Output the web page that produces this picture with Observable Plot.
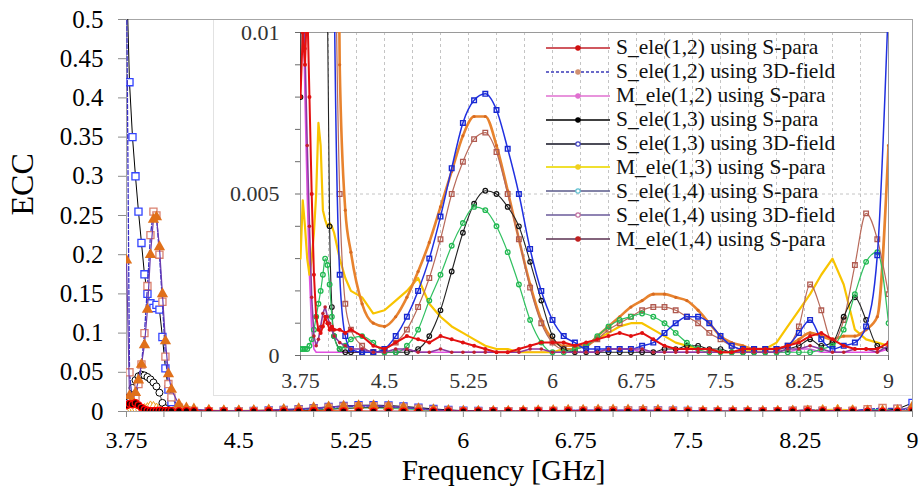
<!DOCTYPE html>
<html><head><meta charset="utf-8">
<script src="https://cdn.jsdelivr.net/npm/d3@7"></script>
<script src="https://cdn.jsdelivr.net/npm/@observablehq/plot@0.6"></script>
<style>
body{margin:0;background:#fff;}
#wrap{position:relative;width:920px;height:495px;overflow:hidden;font-family:"Liberation Serif","Times New Roman",Times,"DejaVu Serif",serif;background:#fff;}
#main{position:absolute;left:0;top:0;}
#inset{position:absolute;left:213px;top:20px;width:698px;height:376px;box-sizing:border-box;border-left:1px solid #e2e2e2;border-bottom:1px solid #e2e2e2;background:#fff;}
#legend{position:absolute;left:546px;top:36px;font-size:21.5px;color:#111;}
#legend .row{display:flex;align-items:center;height:23.9px;white-space:nowrap;}
#legend svg{margin-right:6px;}
</style></head>
<body><div id="wrap"><div id="main"></div><div id="inset"></div><div id="legend"></div></div>
<script>
// ---------- data ----------
const freq = [3.75,3.77,3.79,3.81,3.83,3.85,3.87,3.89,3.91,3.93,3.95,3.97,3.99,4.01,4.03,4.05,
  4.1,4.15,4.2,
  4.3,4.4,4.5,4.6,4.7,4.8,4.9,5.0,5.1,5.2,
  5.3,5.4,5.5,5.6,5.7,5.8,5.9,6.0,6.1,6.2,
  6.3,6.4,6.5,6.6,6.7,6.8,6.9,7.0,7.1,7.2,
  7.3,7.4,7.5,7.6,7.7,7.8,7.9,8.0,8.1,8.2,
  8.3,8.4,8.5,8.6,8.7,8.8,8.9,9.0];

const s12_Spara = [0.008,0.010,0.009,0.011,0.008,0.005,0.0025,0.0012,0.0008,0.0007,0.0009,0.0012,0.0010,0.0008,0.0009,0.0008,
  0.0008,0.0007,0.0008,
  0.0006,0.0003,0.0002,0.0004,0.0006,0.0005,0.0004,0.0006,0.0005,0.0004,
  0.0003,0.0002,0.0001,0.0001,0.0002,0.0003,0.0004,0.0004,0.0004,0.0003,
  0.0004,0.0005,0.0006,0.0007,0.0006,0.0007,0.0005,0.0003,0.0002,0.0002,
  0.0002,0.0002,0.0001,0.0001,0.0002,0.0002,0.0002,0.0002,0.0003,0.0004,
  0.0006,0.0007,0.0005,0.0003,0.0002,0.0002,0.0002,0.0004];

const s12_3D = [0.193,0.020,0.014,0.024,0.040,0.060,0.085,0.130,0.200,0.245,0.248,0.210,0.150,0.090,0.048,0.028,
  0.009,0.0045,0.0032,
  0.0016,0.0010,0.0009,0.0012,0.0018,0.0026,0.0035,0.0046,0.0057,0.0068,
  0.0074,0.0074,0.0065,0.0051,0.0036,0.0022,0.0011,0.0005,0.0003,0.0003,
  0.0003,0.0006,0.0009,0.0012,0.0015,0.0017,0.0019,0.0019,0.0018,0.0017,
  0.0014,0.0010,0.0006,0.0004,0.0003,0.0002,0.0002,0.0002,0.0003,0.0005,
  0.0007,0.0006,0.0005,0.0006,0.0006,0.0008,0.0012,0.0065];

const m12_Spara = [0.015,0.012,0.008,0.005,0.0025,0.0008,0.0002,0.0001,0.0001,0.0001,0.0001,0.0001,0.0001,0.0001,0.0001,0.0001,
  0.0001,0.0001,0.0001,
  0.0001,0.0001,0.0001,0.0001,0.0002,0.0001,0.0001,0.0001,0.0001,0.0001,
  0.0001,0.0001,0.0001,0.0001,0.0001,0.0001,0.0001,0.0001,0.0001,0.0001,
  0.0001,0.0001,0.0002,0.0002,0.0002,0.0001,0.0001,0.0001,0.0001,0.0001,
  0.0001,0.0001,0.0001,0.0001,0.0001,0.0001,0.0001,0.0001,0.0001,0.0002,
  0.0002,0.0001,0.0001,0.0001,0.0001,0.0001,0.0001,0.0002];

const s13_Spara = [0.008,0.018,0.030,0.040,0.045,0.047,0.046,0.044,0.041,0.037,0.032,0.024,0.011,0.004,0.0015,0.0006,
  0.0002,0.0001,0.0001,
  0.0001,0.0001,0.0001,0.0001,0.0001,0.0002,0.0006,0.0014,0.0026,0.0038,
  0.0047,0.0051,0.0050,0.0046,0.0040,0.0029,0.0017,0.0006,0.0002,0.0001,
  0.0001,0.0001,0.0001,0.0001,0.0001,0.0001,0.0001,0.0002,0.0002,0.0003,
  0.0003,0.0002,0.0002,0.0001,0.0001,0.0001,0.0001,0.0001,0.0002,0.0003,
  0.0005,0.0003,0.0004,0.0012,0.0018,0.0011,0.0003,0.0002];

const s13_3D = [0.56,0.42,0.35,0.30,0.255,0.215,0.175,0.150,0.138,0.132,0.136,0.130,0.095,0.055,0.028,0.012,
  0.0025,0.0006,0.0002,
  0.0001,0.0001,0.0002,0.0006,0.0012,0.0020,0.0030,0.0043,0.0058,0.0072,
  0.0079,0.0081,0.0076,0.0064,0.0050,0.0033,0.0020,0.0011,0.0006,0.0004,
  0.0002,0.0002,0.0002,0.0002,0.0002,0.0003,0.0004,0.0007,0.0010,0.0012,
  0.0012,0.0010,0.0006,0.0003,0.0002,0.0002,0.0002,0.0002,0.0003,0.0007,
  0.0011,0.0005,0.0002,0.0003,0.0004,0.0009,0.0031,0.011];

const m13_Spara = [0.003,0.0048,0.004,0.003,0.0025,0.003,0.0038,0.005,0.0072,0.0065,0.0045,0.0042,0.004,0.0041,0.004,0.0038,
  0.003,0.0024,0.002,
  0.0018,0.0013,0.0014,0.0017,0.0020,0.0024,0.0016,0.0012,0.0009,0.0007,
  0.0005,0.0003,0.0002,0.0002,0.0001,0.0001,0.0001,0.0001,0.0002,0.0002,
  0.0003,0.0005,0.0007,0.0009,0.0010,0.0010,0.0008,0.0006,0.0004,0.0003,
  0.0002,0.0002,0.0001,0.0001,0.0001,0.0002,0.0002,0.0004,0.0009,0.0014,
  0.0019,0.0025,0.0030,0.0022,0.0008,0.0005,0.0004,0.0003];

const s14_Spara = [0.0002,0.0002,0.0002,0.0002,0.0003,0.0005,0.0008,0.0012,0.0016,0.0020,0.0025,0.0030,0.0028,0.0022,0.0012,0.0006,
  0.0002,0.0003,0.0005,
  0.0006,0.0004,0.0001,0.0001,0.0003,0.0008,0.0017,0.0025,0.0034,0.0041,
  0.0046,0.0045,0.0040,0.0032,0.0022,0.0011,0.0004,0.0001,0.0001,0.0002,
  0.0003,0.0006,0.0009,0.0011,0.0012,0.0013,0.0012,0.0010,0.0007,0.0004,
  0.0002,0.0001,0.0001,0.0001,0.0001,0.0001,0.0001,0.0001,0.0001,0.0001,
  0.0001,0.0002,0.0003,0.0008,0.0019,0.0029,0.0032,0.0010];

const s14_3D = [0.56,0.05,0.010,0.018,0.035,0.060,0.100,0.160,0.225,0.255,0.250,0.200,0.140,0.070,0.035,0.018,
  0.005,0.0016,0.0008,
  0.0003,0.0001,0.0002,0.0004,0.0008,0.0015,0.0024,0.0036,0.0050,0.0060,
  0.0067,0.0069,0.0063,0.0050,0.0036,0.0021,0.0010,0.0004,0.0002,0.0002,
  0.0003,0.0005,0.0008,0.0010,0.0012,0.0014,0.0015,0.0015,0.0014,0.0012,
  0.0010,0.0007,0.0005,0.0003,0.0002,0.0002,0.0002,0.0002,0.0003,0.0009,
  0.0022,0.0014,0.0004,0.0011,0.0028,0.0044,0.0036,0.0019];

const m14_Spara = [0.022,0.012,0.0095,0.0065,0.004,0.0018,0.0006,0.0003,0.0005,0.0009,0.0013,0.0015,0.0012,0.0010,0.0008,0.0006,
  0.0004,0.0003,0.0002,
  0.0002,0.0001,0.0001,0.0002,0.0002,0.0001,0.0001,0.0002,0.0001,0.0001,
  0.0001,0.0001,0.0001,0.0001,0.0001,0.0002,0.0002,0.0001,0.0001,0.0001,
  0.0001,0.0001,0.0002,0.0002,0.0002,0.0002,0.0001,0.0001,0.0001,0.0001,
  0.0001,0.0001,0.0001,0.0001,0.0001,0.0001,0.0001,0.0001,0.0002,0.0002,
  0.0003,0.0002,0.0001,0.0001,0.0002,0.0002,0.0001,0.0003];

const seriesNames = ["S_ele(1,2) using S-para","S_ele(1,2) using 3D-field","M_ele(1,2) using S-para",
  "S_ele(1,3) using S-para","S_ele(1,3) using 3D-field","M_ele(1,3) using S-para",
  "S_ele(1,4) using S-para","S_ele(1,4) using 3D-field","M_ele(1,4) using S-para"];

const xTickValues = [3.75,4.5,5.25,6,6.75,7.5,8.25,9];
const xTickLabels = ["3.75","4.5","5.25","6","6.75","7.5","8.25","9"];
const yTickValues = [0,0.05,0.1,0.15,0.2,0.25,0.3,0.35,0.4,0.45,0.5];
const yTickLabels = ["0","0.05","0.1","0.15","0.2","0.25","0.3","0.35","0.4","0.45","0.5"];
const insetYTickValues = [0,0.005,0.01];
const insetYTickLabels = ["0","0.005","0.01"];
const xLabel = "Frequency [GHz]";
const yLabel = "ECC";

// ---------- helpers ----------
const rows = vals => freq.map((f, i) => ({f, v: vals[i]}));
const near = (a, b) => Math.abs(a - b) < 1e-9;
const fmtFrom = (vals, labs) => d => { const i = vals.findIndex(v => near(v, d)); return i >= 0 ? labs[i] : ""; };
const xMinor = d3.range(0, 22).map(k => 3.75 + 0.25 * k);
const insetYMinor = d3.range(0, 11).map(k => +(k * 0.001).toFixed(3));
const FONT = "'Liberation Serif','Times New Roman',Times,'DejaVu Serif',serif";

// ---------- main chart ----------
const xy = {x: "f", y: "v", clip: true};
const main = Plot.plot({
  width: 920, height: 495,
  marginLeft: 126, marginRight: 8, marginTop: 19, marginBottom: 84,
  x: {domain: [3.75, 9]},
  y: {domain: [0, 0.5]},
  style: {fontFamily: FONT, background: "white", color: "#000"},
  marks: [
    Plot.frame({stroke: "#a6a6a6"}),
    Plot.axisY(yTickValues, {anchor: "left", tickSize: 8, tickPadding: 15, tickFormat: fmtFrom(yTickValues, yTickLabels), stroke: "#8c8c8c", fill: "#000", fontSize: 25, label: null}),
    Plot.axisX(xMinor, {anchor: "bottom", tickSize: 6, tickPadding: 13, tickFormat: fmtFrom(xTickValues, xTickLabels), stroke: "#8c8c8c", fill: "#000", fontSize: 24, label: null}),
    Plot.text([yLabel], {frameAnchor: "left", dx: -104, rotate: -90, fontSize: 32, fill: "#000"}),
    Plot.text([xLabel], {frameAnchor: "bottom", dx: -16, dy: 68, fontSize: 29, fill: "#000"}),
    Plot.line(rows(m12_Spara), {...xy, stroke: "#e040e0", strokeWidth: 1.2}),
    Plot.line(rows(m14_Spara), {...xy, stroke: "#7a2a70", strokeWidth: 1.2}),
    Plot.line(rows(s14_Spara), {...xy, stroke: "#40d080", strokeWidth: 1}),
    Plot.dot(rows(s14_Spara), {...xy, symbol: "square", r: 3.2, stroke: "#40d080", fill: "white", strokeWidth: 1.2}),
    Plot.line(rows(m13_Spara), {...xy, stroke: "#f0b020", strokeWidth: 1}),
    Plot.dot(rows(m13_Spara), {...xy, symbol: "diamond", r: 3, stroke: "#f0a020", fill: "white", strokeWidth: 1}),
    Plot.line(rows(s13_Spara), {...xy, stroke: "#000", strokeWidth: 0.7}),
    Plot.dot(rows(s13_Spara), {...xy, r: 3.5, stroke: "#000", fill: "white", strokeWidth: 1}),
    Plot.line(rows(s13_3D), {...xy, stroke: "#000", strokeWidth: 1}),
    Plot.dot(rows(s13_3D), {...xy, symbol: "square", r: 4, stroke: "#3344ff", fill: "white", strokeWidth: 1.3}),
    Plot.line(rows(s14_3D), {...xy, stroke: "#3a30c8", strokeDasharray: "4,2", strokeWidth: 1.3}),
    Plot.dot(rows(s14_3D), {...xy, symbol: "square", r: 4, stroke: "#d9806f", fill: "white", strokeWidth: 1.3}),
    Plot.line(rows(s12_3D), {...xy, stroke: "#6a3cb0", strokeWidth: 1.2}),
    Plot.dot(rows(s12_3D), {...xy, symbol: "triangle", r: 4.2, fill: "#e0701a"}),
    Plot.line(rows(s12_Spara), {...xy, stroke: "#e00000", strokeWidth: 1}),
    Plot.dot(rows(s12_Spara), {...xy, r: 3.3, stroke: "#ff0000", fill: "#200000", strokeWidth: 1.3})
  ]
});
document.getElementById("main").appendChild(main);

// ---------- inset chart ----------
const mono = {curve: "monotone-x"};
const inset = Plot.plot({
  width: 697, height: 375,
  marginLeft: 86, marginRight: 23, marginTop: 12, marginBottom: 40,
  x: {domain: [3.75, 9]},
  y: {domain: [0, 0.01]},
  style: {fontFamily: FONT, background: "white", color: "#333"},
  marks: [
    Plot.ruleX(xMinor.slice(1, -1), {stroke: "#c4c4c4", strokeDasharray: "3,3"}),
    Plot.ruleY([0.005], {stroke: "#c4c4c4", strokeDasharray: "3,3"}),
    Plot.frame({stroke: "#9a9a9a"}),
    Plot.axisY(insetYMinor, {anchor: "left", tickSize: 5, tickPadding: 16, tickFormat: fmtFrom(insetYTickValues, insetYTickLabels), stroke: "#6a6a6a", fill: "#333", fontSize: 22, label: null}),
    Plot.axisX(xMinor, {anchor: "bottom", tickSize: 5, tickPadding: 12, tickFormat: fmtFrom(xTickValues, xTickLabels), stroke: "#6a6a6a", fill: "#333", fontSize: 22, label: null}),
    Plot.line(rows(m12_Spara), {...xy, stroke: "#e050e0", strokeWidth: 1.6}),
    Plot.line(rows(m13_Spara), {...xy, stroke: "#f8c400", strokeWidth: 2.2}),
    Plot.line(rows(s12_3D), {...xy, ...mono, stroke: "#e8832e", strokeWidth: 2.6}),
    Plot.dot(rows(s12_3D), {...xy, r: 1.6, fill: "#d86a20"}),
    Plot.line(rows(s14_3D), {...xy, ...mono, stroke: "#b86a5a", strokeWidth: 1.2}),
    Plot.dot(rows(s14_3D), {...xy, symbol: "square", r: 2.6, stroke: "#b05a50", fill: "none", strokeWidth: 1.3}),
    Plot.line(rows(s13_Spara), {...xy, ...mono, stroke: "#222", strokeWidth: 1.1}),
    Plot.dot(rows(s13_Spara), {...xy, r: 2.3, stroke: "#111", fill: "none", strokeWidth: 1.2}),
    Plot.line(rows(s14_Spara), {...xy, ...mono, stroke: "#30c060", strokeWidth: 1.2}),
    Plot.dot(rows(s14_Spara), {...xy, r: 2.3, stroke: "#20b850", fill: "none", strokeWidth: 1.3}),
    Plot.line(rows(s13_3D), {...xy, ...mono, stroke: "#2030e0", strokeWidth: 1.5}),
    Plot.dot(rows(s13_3D), {...xy, symbol: "square", r: 2.6, stroke: "#1828d0", fill: "none", strokeWidth: 1.4}),
    Plot.line(rows(m14_Spara), {...xy, stroke: "#8a3aa0", strokeWidth: 1.6}),
    Plot.dot(rows(m14_Spara), {...xy, r: 1.8, fill: "#c02030"}),
    Plot.line(rows(s12_Spara), {...xy, stroke: "#e31010", strokeWidth: 2}),
    Plot.dot(rows(s12_Spara), {...xy, r: 2, fill: "#e01010"})
  ]
});
document.getElementById("inset").appendChild(inset);

// ---------- legend ----------
const legendStyles = [
  {line: "#c0202a", dash: null, mk: "#d01010", mkFill: true},
  {line: "#3a3ab8", dash: "3,2", mk: "#d09070", mkFill: true},
  {line: "#e070d0", dash: null, mk: "#e070d0", mkFill: true},
  {line: "#000000", dash: null, mk: "#000000", mkFill: true},
  {line: "#101020", dash: null, mk: "#4040c0", mkFill: false},
  {line: "#f0e030", dash: null, mk: "#f0d020", mkFill: true},
  {line: "#5a5a8a", dash: null, mk: "#60c0d0", mkFill: false},
  {line: "#6a5a9a", dash: null, mk: "#c070a0", mkFill: false},
  {line: "#5a3050", dash: null, mk: "#c02020", mkFill: true}
];
const legend = d3.select("#legend");
seriesNames.forEach((name, i) => {
  const st = legendStyles[i];
  const row = legend.append("div").attr("class", "row");
  const svg = row.append("svg").attr("width", 64).attr("height", 12);
  svg.append("line").attr("x1", 0).attr("x2", 64).attr("y1", 6).attr("y2", 6)
    .attr("stroke", st.line).attr("stroke-width", i === 5 ? 2.2 : 1.5)
    .attr("stroke-dasharray", st.dash);
  svg.append("circle").attr("cx", 32).attr("cy", 6).attr("r", 2.2)
    .attr("fill", st.mkFill ? st.mk : "white").attr("stroke", st.mk).attr("stroke-width", 1.2);
  row.append("span").text(name);
});
</script>
</body></html>
